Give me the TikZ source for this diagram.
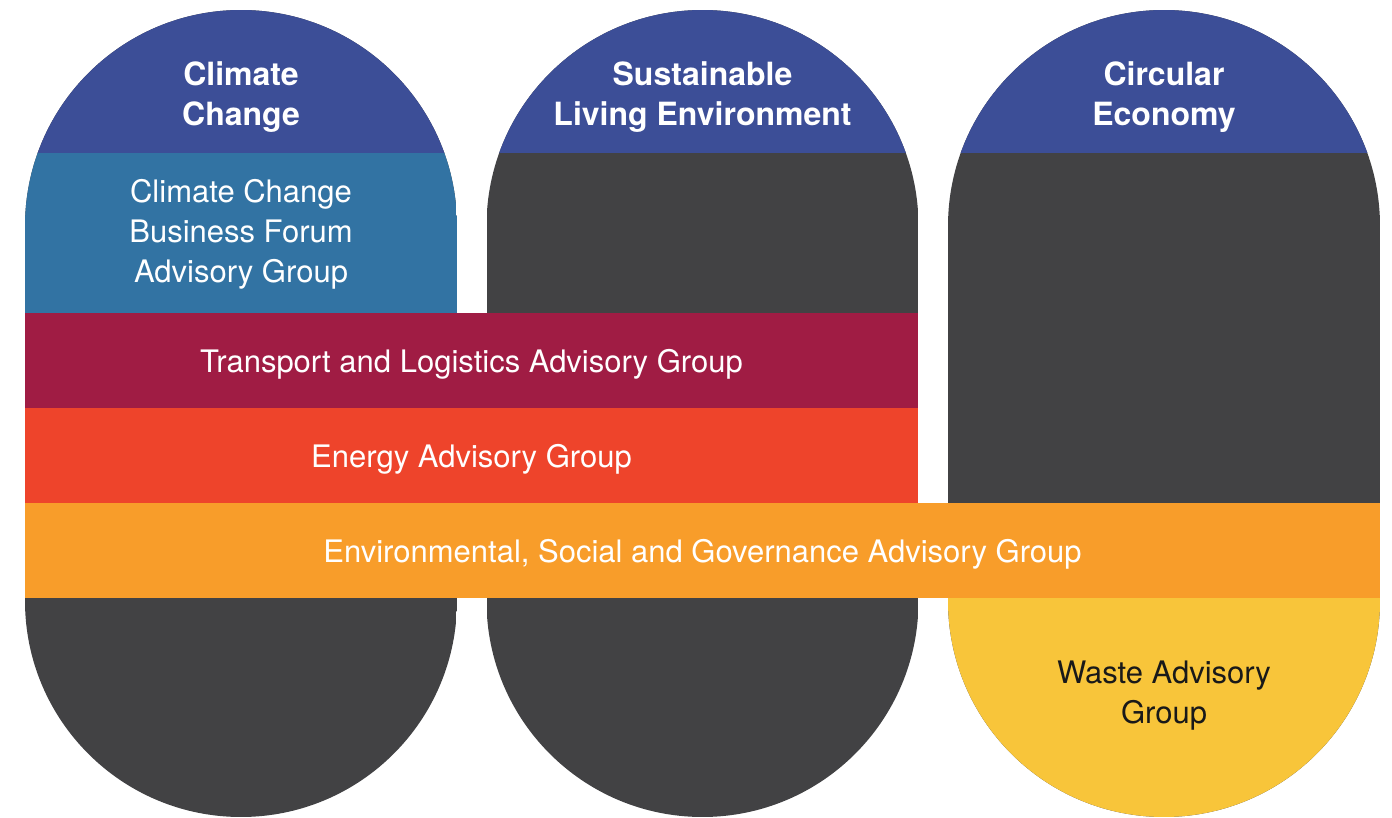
\documentclass[tikz,border=0pt]{standalone}
\usepackage{fontspec}
\setmainfont{TeX Gyre Heros}
\usetikzlibrary{positioning}
\definecolor{capblue}{HTML}{3C4E97}
\definecolor{forumblue}{HTML}{3273A3}
\definecolor{pillgrey}{HTML}{424244}
\definecolor{transportred}{HTML}{A01C44}
\definecolor{energyred}{HTML}{EE442B}
\definecolor{esgorange}{HTML}{F89D2A}
\definecolor{wasteyellow}{HTML}{F8C53A}
\tikzset{
  title/.style={text=white,font=\bfseries\fontsize{16}{20}\selectfont,align=center},
  group/.style={text=white,font=\fontsize{15.5}{20}\selectfont,align=center},
  band/.style={fill=#1,inner sep=0pt,outer sep=0pt,minimum height=47.5pt,
    text depth=0pt,text=white,font=\fontsize{15.5}{20}\selectfont},
  pill/.style={rounded corners=108pt}
}
\begin{document}
\begin{tikzpicture}[x=0.5pt,y=-0.5pt]
  \useasboundingbox (0,0) rectangle (1392,818);

  % Pillars
  \foreach \cx in {241,702.5,1164}{
    \begin{scope}
      \clip[pill] (\cx-216,10) rectangle (\cx+216,817);
      \fill[pillgrey] (\cx-216,10) rectangle (\cx+216,817);
      \fill[capblue] (\cx-216,10) rectangle (\cx+216,153);
    \end{scope}
  }
  \begin{scope}
    \clip[pill] (25,10) rectangle (457,817);
    \fill[forumblue] (25,153) rectangle (457,313);
  \end{scope}
  \begin{scope}
    \clip[pill] (948,10) rectangle (1380,817);
    \fill[wasteyellow] (948,598) rectangle (1380,817);
  \end{scope}

  % Headings
  \node[title] (climate) at (241,97) {Climate\\Change};
  \node[title] (living) at (702.5,97) {Sustainable\\Living Environment};
  \node[title] (circular) at (1164,97) {Circular\\Economy};

  % Advisory groups
  \node[group] (forum) at (241,234) {Climate Change\\Business Forum\\Advisory Group};
  \node[band=transportred,minimum width=446.5pt] (transport) at (471.5,360.5)
    {Transport and Logistics Advisory Group};
  \node[band=energyred,minimum width=446.5pt] (energy) at (471.5,455.5)
    {Energy Advisory Group};
  \node[band=esgorange,minimum width=677.5pt] (esg) at (702.5,550.5)
    {Environmental, Social and Governance Advisory Group};
  \node[group,text=black!90] (waste) at (1164,696) {Waste Advisory\\Group};
\end{tikzpicture}
\end{document}
